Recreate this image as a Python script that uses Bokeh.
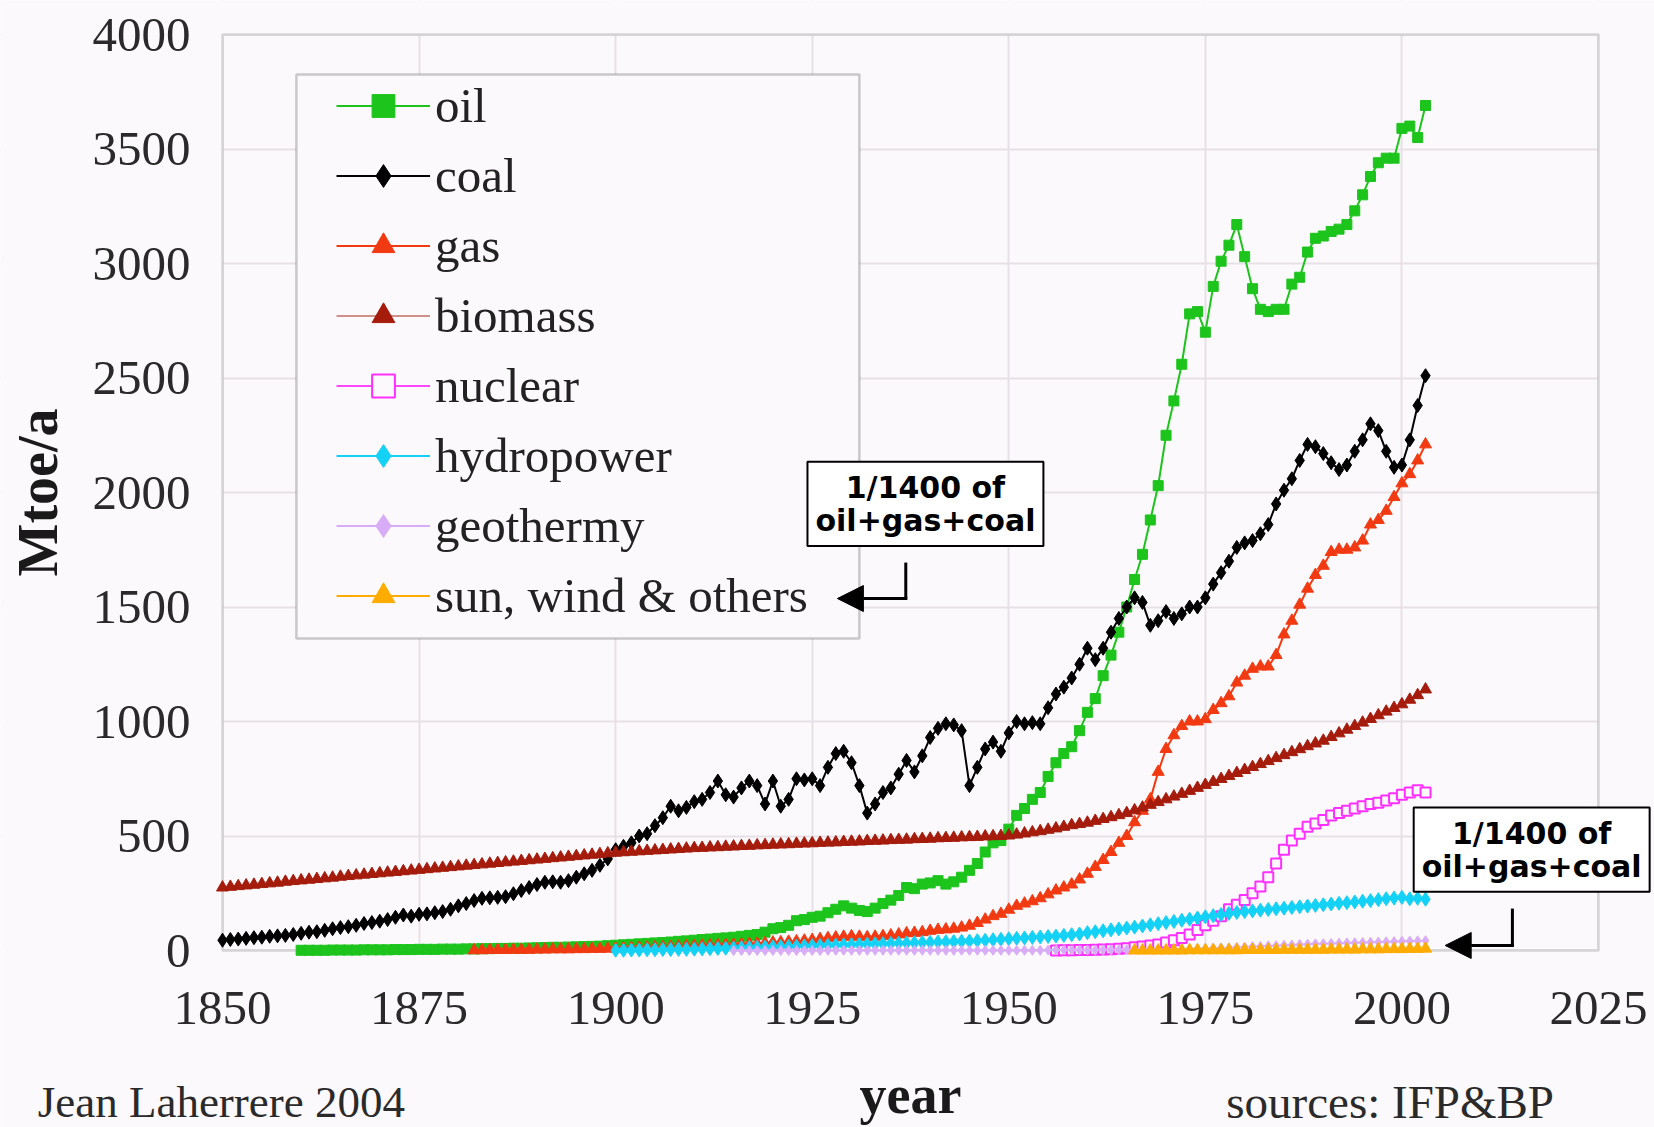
from bokeh.plotting import figure
from bokeh.models import (Legend, LegendItem, Label, Arrow, NormalHead, BoxAnnotation,
                          FixedTicker)
from bokeh.embed import file_html
from bokeh.resources import INLINE

# ---------------- data (Mtoe/a) ----------------
x_ticks = [1850, 1875, 1900, 1925, 1950, 1975, 2000, 2025]
y_ticks = [0, 500, 1000, 1500, 2000, 2500, 3000, 3500, 4000]

coal_years = list(range(1850, 2004))
coal = [45, 48, 50, 53, 56, 58, 62, 64, 66, 70,
        75, 80, 82, 88, 95, 100, 104, 110, 118, 122,
        128, 135, 145, 155, 150, 158, 160, 165, 170, 180,
        195, 205, 218, 228, 230, 232, 235, 248, 262, 275,
        288, 298, 300, 298, 305, 320, 335, 350, 372, 400,
        440, 455, 470, 500, 510, 545, 580, 630, 610, 625,
        650, 660, 690, 740, 680, 670, 710, 740, 720, 640,
        740, 630, 660, 750, 745, 750, 720, 800, 860, 870,
        820, 720, 600, 640, 690, 710, 770, 830, 780, 850,
        930, 970, 990, 985, 960, 720, 800, 880, 910, 870,
        950, 1000, 990, 995, 990, 1060, 1120, 1150, 1190, 1250,
        1320, 1270, 1320, 1390, 1450, 1500, 1540, 1520, 1420, 1440,
        1480, 1450, 1470, 1500, 1500, 1540, 1600, 1650, 1700, 1760,
        1780, 1790, 1820, 1860, 1950, 2010, 2060, 2140, 2210, 2200,
        2170, 2130, 2100, 2120, 2180, 2230, 2300, 2270, 2180, 2110,
        2120, 2230, 2380, 2510]

oil_years = list(range(1860, 2004))
oil = [1, 1, 1, 1, 2, 2, 2, 2, 3, 3,
       3, 3, 4, 4, 4, 5, 5, 5, 6, 6,
       6, 7, 7, 8, 8, 9, 9, 10, 10, 11,
       12, 13, 14, 14, 15, 16, 17, 18, 19, 21,
       23, 25, 27, 29, 31, 33, 35, 37, 40, 42,
       45, 48, 50, 53, 55, 58, 62, 66, 70, 80,
       95, 100, 110, 130, 135, 145, 150, 165, 180, 195,
       185, 175, 170, 185, 205, 220, 240, 275, 270, 290,
       295, 305, 290, 300, 320, 350, 380, 430, 470, 480,
       530, 590, 620, 660, 690, 760, 820, 860, 890, 960,
       1040, 1100, 1200, 1290, 1390, 1500, 1620, 1730, 1880, 2030,
       2250, 2400, 2560, 2780, 2790, 2700, 2900, 3010, 3080, 3170,
       3030, 2890, 2800, 2790, 2800, 2800, 2910, 2940, 3050, 3110,
       3120, 3140, 3150, 3170, 3230, 3300, 3380, 3440, 3460, 3460,
       3590, 3600, 3550, 3690]

gas_years = list(range(1882, 2004))
gas = [1, 1, 2, 2, 2, 3, 3, 3,
       4, 4, 5, 5, 5, 6, 6, 7, 7, 8,
       9, 10, 11, 12, 13, 14, 15, 16, 17, 19,
       20, 21, 22, 23, 24, 25, 27, 29, 30, 32,
       35, 36, 38, 40, 43, 46, 50, 54, 57, 60,
       62, 60, 58, 60, 63, 66, 70, 75, 77, 80,
       86, 90, 92, 95, 100, 108, 120, 135, 150, 160,
       178, 195, 205, 215, 228, 245, 262, 275, 288, 310,
       335, 365, 395, 430, 470, 500, 560, 610, 660, 780,
       880, 940, 980, 1000, 1000, 1010, 1050, 1080, 1110, 1170,
       1200, 1230, 1240, 1240, 1290, 1380, 1440, 1510, 1580, 1640,
       1680, 1740, 1750, 1750, 1760, 1790, 1860, 1880, 1920, 1980,
       2040, 2080, 2140, 2210]

biomass_years = list(range(1850, 2004))
biomass = [275, 278, 281, 284, 287, 290, 293, 296, 300, 303,
           306, 309, 312, 315, 318, 322, 325, 328, 331, 334,
           337, 340, 343, 346, 349, 352, 355, 358, 361, 364,
           367, 370, 373, 376, 379, 382, 385, 388, 391, 394,
           397, 400, 403, 406, 409, 412, 415, 418, 421, 424,
           427, 429, 431, 433, 435, 437, 439, 441, 443, 445,
           447, 448, 450, 451, 453, 454, 456, 457, 459, 460,
           462, 463, 464, 466, 467, 468, 470, 471, 472, 474,
           475, 476, 478, 479, 480, 482, 483, 484, 486, 487,
           488, 490, 491, 492, 494, 495, 496, 498, 499, 500,
           502, 506, 511, 516, 521, 527, 533, 540, 547, 552,
           558, 566, 574, 582, 591, 600, 612, 624, 636, 648,
           660, 672, 684, 697, 710, 723, 736, 749, 762, 775,
           788, 801, 814, 827, 840, 853, 866, 879, 892, 904,
           916, 932, 948, 964, 980, 995, 1011, 1027, 1043, 1059,
           1075, 1095, 1115, 1140]

nuclear_years = list(range(1956, 2004))
nuclear = [0, 1, 1, 2,
           2, 3, 4, 6, 8, 10, 14, 18, 22, 26,
           35, 45, 55, 70, 90, 110, 130, 150, 180, 200,
           220, 250, 280, 320, 380, 440, 480, 510, 540, 555,
           570, 590, 600, 610, 620, 630, 640, 645, 655, 665,
           680, 690, 700, 690]

hydro_years = list(range(1900, 2004))
hydro = [1, 1, 2, 2, 3, 3, 4, 4, 5, 5,
         6, 7, 8, 9, 10, 11, 12, 13, 14, 15,
         16, 17, 18, 19, 20, 21, 22, 23, 24, 25,
         26, 27, 28, 29, 30, 31, 32, 33, 34, 35,
         36, 37, 38, 39, 40, 41, 43, 45, 47, 49,
         51, 53, 55, 57, 59, 61, 63, 66, 69, 72,
         78, 82, 86, 90, 94, 98, 102, 107, 112, 117,
         122, 127, 132, 137, 142, 147, 152, 157, 162, 166,
         170, 173, 176, 179, 182, 185, 188, 191, 194, 197,
         200, 203, 206, 209, 212, 215, 218, 222, 226, 229,
         232, 226, 228, 224]

geo_years = list(range(1915, 2004))
geo = [0, 0, 0, 0, 0,
       0, 0, 0, 0, 0, 0, 0, 1, 1, 1,
       1, 1, 1, 1, 1, 1, 1, 1, 1, 1,
       1, 1, 1, 1, 1, 1, 1, 1, 1, 1,
       1, 1, 1, 1, 1, 2, 2, 2, 2, 2,
       2, 2, 3, 3, 3, 3, 4, 4, 4, 5,
       5, 6, 6, 7, 8, 9, 10, 11, 12, 14,
       15, 17, 18, 20, 21, 23, 24, 26, 27, 29,
       30, 31, 32, 33, 34, 35, 36, 37, 38, 39,
       40, 41, 42, 43]

sun_years = list(range(1966, 2004))
sun = [0, 0, 0, 0,
       0, 0, 0, 1, 1, 1, 1, 1, 1, 1,
       2, 2, 2, 2, 2, 3, 3, 3, 3, 3,
       3, 4, 4, 4, 4, 5, 5, 5, 6, 6,
       6, 7, 7, 8]

# ---------------- layout (pixel geometry of the reference) ----------------
W, H = 1654, 1127                 # canvas (Bokeh page has no body margin)
AX_LEFT, AX_RIGHT = 222, 1598     # page px of year 1850 / 2025
AX_TOP, AX_BOTTOM = 34, 950       # page px of 4000 / 0
X0, X1 = x_ticks[0], x_ticks[-1]
Y0, Y1 = y_ticks[0], y_ticks[-1]
px_per_x = (AX_RIGHT - AX_LEFT) / (X1 - X0)
px_per_y = (AX_BOTTOM - AX_TOP) / (Y1 - Y0)
x_start = X0 - AX_LEFT / px_per_x
x_end = X1 + (W - AX_RIGHT) / px_per_x
y_start = Y0 - (H - AX_BOTTOM) / px_per_y
y_end = Y1 + AX_TOP / px_per_y

BG = "#fcf9fc"
SERIF = "Liberation Serif"

p = figure(width=W, height=H, x_range=(x_start, x_end), y_range=(y_start, y_end),
           output_backend="svg", toolbar_location=None,
           min_border_left=0, min_border_right=0, min_border_top=0,
           min_border_bottom=0,
           background_fill_color=BG, border_fill_color=BG)
p.outline_line_color = None

p.xaxis.ticker = FixedTicker(ticks=x_ticks)
p.yaxis.ticker = FixedTicker(ticks=y_ticks)
p.xgrid.ticker = FixedTicker(ticks=x_ticks)
p.ygrid.ticker = FixedTicker(ticks=y_ticks)
p.grid.grid_line_color = "#e6e1e6"
p.grid.grid_line_width = 2

xa = p.xaxis[0]
ya = p.yaxis[0]
xa.fixed_location = Y0
ya.fixed_location = X0
xa.bounds = (X0, X1)
ya.bounds = (Y0, Y1)
for ax in (xa, ya):
    ax.axis_line_color = None
    ax.major_tick_line_color = None
    ax.minor_tick_line_color = None
    ax.major_label_text_font = SERIF
    ax.major_label_text_font_size = "49px"
    ax.major_label_text_color = "#2a2a2a"
    ax.axis_label_text_font = SERIF
    ax.axis_label_text_font_style = "bold"
    ax.axis_label_text_color = "#1a1a1a"

xa.axis_label = "year"
ya.axis_label = "Mtoe/a"
xa.axis_label_text_font_size = "54px"
ya.axis_label_text_font_size = "56px"
xa.major_label_standoff = 35
ya.major_label_standoff = 26
xa.axis_label_standoff = 38
ya.axis_label_standoff = 21

# masks that keep the grid inside the plotting box, then the box outline
for kw in (dict(right=X0), dict(left=X1), dict(top=Y0), dict(bottom=Y1)):
    p.add_layout(BoxAnnotation(fill_color=BG, fill_alpha=1.0, line_color=None,
                               level="underlay", **kw))
p.add_layout(BoxAnnotation(left=X0, right=X1, bottom=Y0, top=Y1, fill_alpha=0.0,
                           line_color="#9a9a9a", line_width=3, level="underlay"))

# ---------------- series ----------------
def series(xs, ys, line_color, marker, size, fill=None, mline=None, lw=2, mlw=1):
    l = p.line(xs, ys, line_color=line_color, line_width=lw)
    s = p.scatter(xs, ys, marker=marker, size=size,
                  fill_color=fill if fill else (mline or line_color),
                  line_color=mline or line_color, line_width=mlw)
    return [l, s]

r_oil = series(oil_years, oil, "#1cc41c", "square", 10)
r_coal = series(coal_years, coal, "#000000", "diamond", 14)
r_gas = series(gas_years, gas, "#f23a12", "triangle", 12)
r_bio = series(biomass_years, biomass, "#cf8f8a", "triangle", 12, fill="#a51c0c", mline="#a51c0c")
r_nuc = series(nuclear_years, nuclear, "#ff48ff", "square", 10, fill=BG, mline="#ff30ff", mlw=2)
r_hyd = series(hydro_years, hydro, "#14d2f5", "diamond", 14)
r_geo = series(geo_years, geo, "#d9acf7", "diamond", 10)
r_sun = series(sun_years, sun, "#ffab00", "triangle", 12)

# ---------------- legend ----------------
legend_frame = BoxAnnotation(left=1859.4, right=1931.0, top=3825, bottom=1362,
                             fill_color=BG, fill_alpha=1.0,
                             line_color="#555555", line_width=2.5)
p.add_layout(legend_frame)

legend = Legend(items=[
    LegendItem(label="oil", renderers=r_oil),
    LegendItem(label="coal", renderers=r_coal),
    LegendItem(label="gas", renderers=r_gas),
    LegendItem(label="biomass", renderers=r_bio),
    LegendItem(label="nuclear", renderers=r_nuc),
    LegendItem(label="hydropower", renderers=r_hyd),
    LegendItem(label="geothermy", renderers=r_geo),
    LegendItem(label="sun, wind & others", renderers=r_sun),
], location=(336, 503), padding=8, spacing=13, glyph_width=94, glyph_height=57,
   label_height=57, label_standoff=5, label_text_font=SERIF,
   label_text_font_size="49px", label_text_color="#222222",
   border_line_color=None, background_fill_alpha=0.0)
p.add_layout(legend)

# ---------------- annotations ----------------
note_text = "1/1400 of\noil+gas+coal"
for (nx, ny) in [(1939.4, 1950), (2016.5, 440)]:
    p.add_layout(Label(x=nx, y=ny, text=note_text, text_align="center",
                       text_baseline="middle", text_font="DejaVu Sans",
                       text_font_style="bold", text_font_size="30px",
                       text_line_height=0.95, text_color="black",
                       background_fill_color="white", background_fill_alpha=1.0,
                       border_line_color="black", border_line_width=2, padding=8))

# elbow arrows: (vertical line x, its top, corner y, arrow tip x)
for (vx, vtop, vy, tipx) in [(1936.9, 1694, 1537, 1928.2), (2014.05, 183, 22, 2005.5)]:
    p.add_layout(Arrow(end=None, x_start=vx, y_start=vtop, x_end=vx, y_end=vy,
                       line_color="black", line_width=3))
    p.add_layout(Arrow(end=NormalHead(size=26, fill_color="black", line_color="black"),
                       x_start=vx + 0.2, y_start=vy, x_end=tipx, y_end=vy,
                       line_color="black", line_width=3))

p.add_layout(Label(x=1998.5, y=-660, text="sources: IFP&BP", text_align="center",
                   text_baseline="alphabetic", text_font=SERIF,
                   text_font_size="47px", text_color="#2a2a2a"))
p.add_layout(Label(x=1826.5, y=-660, text="Jean Laherrere 2004", text_align="left",
                   text_baseline="alphabetic", text_font=SERIF,
                   text_font_size="45px", text_color="#2a2a2a"))

open("out.html", "w").write(file_html(p, INLINE))
